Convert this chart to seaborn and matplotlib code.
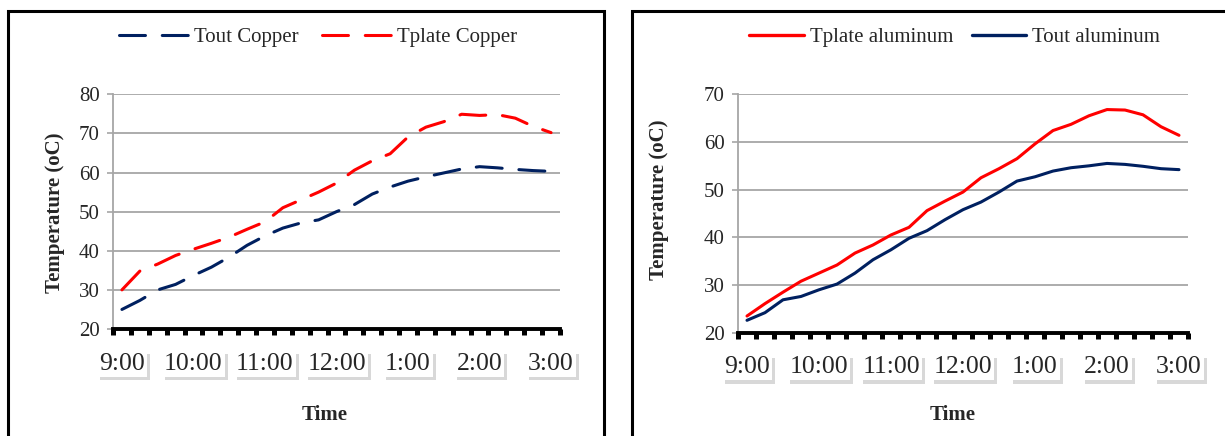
import numpy as np
import pandas as pd
import matplotlib
matplotlib.use("Agg")
import matplotlib.pyplot as plt
import matplotlib.patheffects as pe
from matplotlib.patches import Rectangle
import seaborn as sns

# readings every 15 minutes, 9:00 to 3:00 (25 points)
time_labels = ["9:00", "10:00", "11:00", "12:00", "1:00", "2:00", "3:00"]

tout_copper = [25.0, 27.3, 30.0, 31.4, 33.7, 35.8, 38.4, 41.4, 43.8, 45.8, 47.1, 47.9, 50.0,
               51.8, 54.5, 56.3, 57.8, 58.9, 59.9, 60.9, 61.5, 61.2, 60.8, 60.5, 60.3]
tplate_copper = [30.0, 34.8, 36.6, 38.8, 40.4, 41.9, 43.5, 45.5, 47.4, 51.0, 53.0, 55.0, 57.3,
                 60.6, 63.0, 64.8, 69.1, 71.6, 73.0, 74.9, 74.6, 74.8, 73.9, 71.8, 70.2]

tplate_aluminum = [23.5, 26.1, 28.5, 30.8, 32.5, 34.2, 36.7, 38.4, 40.5, 42.1, 45.6, 47.6, 49.5,
                   52.5, 54.4, 56.5, 59.6, 62.4, 63.7, 65.5, 66.8, 66.7, 65.7, 63.2, 61.4]
tout_aluminum = [22.6, 24.2, 26.9, 27.6, 29.0, 30.2, 32.5, 35.3, 37.4, 39.8, 41.4, 43.7, 45.8,
                 47.4, 49.5, 51.8, 52.7, 53.9, 54.6, 55.0, 55.5, 55.3, 54.9, 54.4, 54.2]

RED = "#ff0000"
NAVY = "#002060"
GRID = "#a6a6a6"

sns.set_style("white")
plt.rcParams["font.family"] = ["Liberation Serif", "DejaVu Serif"]


def make_frame(series):
    rows = []
    for name, vals in series.items():
        for i, v in enumerate(vals):
            rows.append((i, v, name))
    return pd.DataFrame(rows, columns=["step", "temp", "series"])


def style_axes(ax, ylim, yticks):
    ax.set_xlim(-0.5, 24.5)
    ax.set_ylim(*ylim)
    ax.set_yticks(yticks)
    ax.yaxis.grid(True, color=GRID, lw=1.3)
    ax.xaxis.grid(False)
    ax.set_axisbelow(True)
    for s in ["top", "right"]:
        ax.spines[s].set_visible(False)
    ax.spines["left"].set_color(GRID)
    ax.spines["left"].set_linewidth(1.3)
    ax.spines["bottom"].set_color("black")
    ax.spines["bottom"].set_linewidth(2.8)
    ax.spines["bottom"].set_zorder(5)

    ax.set_xticks(range(0, 25, 4), time_labels)
    ax.set_xticks(np.arange(-0.5, 25, 1), minor=True)
    ax.tick_params(axis="x", which="major", bottom=True, length=0, pad=17, labelsize=18.5)
    ax.tick_params(axis="x", which="minor", bottom=True, length=4.6, width=3.6,
                   color="black", direction="out")
    ax.tick_params(axis="y", left=True, length=4.5, width=1.2, color=GRID, labelsize=15, pad=5)

    for lbl in ax.get_xticklabels():
        lbl.set_bbox(dict(boxstyle="square,pad=0.08", fc="white", ec="none"))
        lbl.get_bbox_patch().set_path_effects(
            [pe.withSimplePatchShadow(offset=(2, -2.5), shadow_rgbFace="0.5", alpha=0.3)])

    ax.set_xlabel("Time", fontsize=15, fontweight="bold")
    ax.set_ylabel("Temperature (oC)", fontsize=15, fontweight="bold")


fig = plt.figure(figsize=(12.25, 4.36), dpi=100)

# panel frames
fig.patches.append(Rectangle((8 / 1225, -0.05), 596 / 1225, 1.05 - 11 / 436, transform=fig.transFigure,
                             fill=False, ec="black", lw=2.2))
fig.patches.append(Rectangle((632 / 1225, -0.05), 620 / 1225, 1.05 - 11 / 436, transform=fig.transFigure,
                             fill=False, ec="black", lw=2.2))

# copper
ax1 = fig.add_axes([113 / 1225, 1 - 329 / 436, 447 / 1225, (329 - 94.3) / 436])
df_cu = make_frame({"Tout Copper": tout_copper, "Tplate Copper": tplate_copper})
sns.lineplot(data=df_cu, x="step", y="temp", hue="series", style="series",
             hue_order=["Tout Copper", "Tplate Copper"], style_order=["Tout Copper", "Tplate Copper"],
             palette={"Tout Copper": NAVY, "Tplate Copper": RED},
             dashes={"Tout Copper": (8.5, 5.5), "Tplate Copper": (8.5, 5.5)},
             lw=2.2, ax=ax1)
for ln in ax1.get_lines():
    ln.set_dash_capstyle("round")
style_axes(ax1, (20, 80), range(20, 81, 10))
ax1.xaxis.set_label_coords(0.474, -0.324)
ax1.yaxis.set_label_coords(-0.107, 0.496)
sns.move_legend(ax1, "center", bbox_to_anchor=(0.459, 1.244), ncol=2, frameon=False, title=None,
                fontsize=15, handlelength=3.3, handletextpad=0.3, columnspacing=1.1)
for h in ax1.get_legend().legend_handles:
    h.set_linewidth(2.2)
    h.set_dash_capstyle("round")

# aluminum
ax2 = fig.add_axes([738 / 1225, 1 - 332.7 / 436, 450 / 1225, (332.7 - 94.3) / 436])
df_al = make_frame({"Tplate aluminum": tplate_aluminum, "Tout aluminum": tout_aluminum})
sns.lineplot(data=df_al, x="step", y="temp", hue="series",
             hue_order=["Tplate aluminum", "Tout aluminum"],
             palette={"Tplate aluminum": RED, "Tout aluminum": NAVY},
             lw=2.2, ax=ax2)
style_axes(ax2, (20, 70), range(20, 71, 10))
ax2.xaxis.set_label_coords(0.476, -0.303)
ax2.yaxis.set_label_coords(-0.153, 0.557)
sns.move_legend(ax2, "center", bbox_to_anchor=(0.482, 1.240), ncol=2, frameon=False, title=None,
                fontsize=15, handlelength=2.6, handletextpad=0.3, columnspacing=0.9)
for h in ax2.get_legend().legend_handles:
    h.set_linewidth(2.4)

fig.savefig("out.png", dpi=100)
